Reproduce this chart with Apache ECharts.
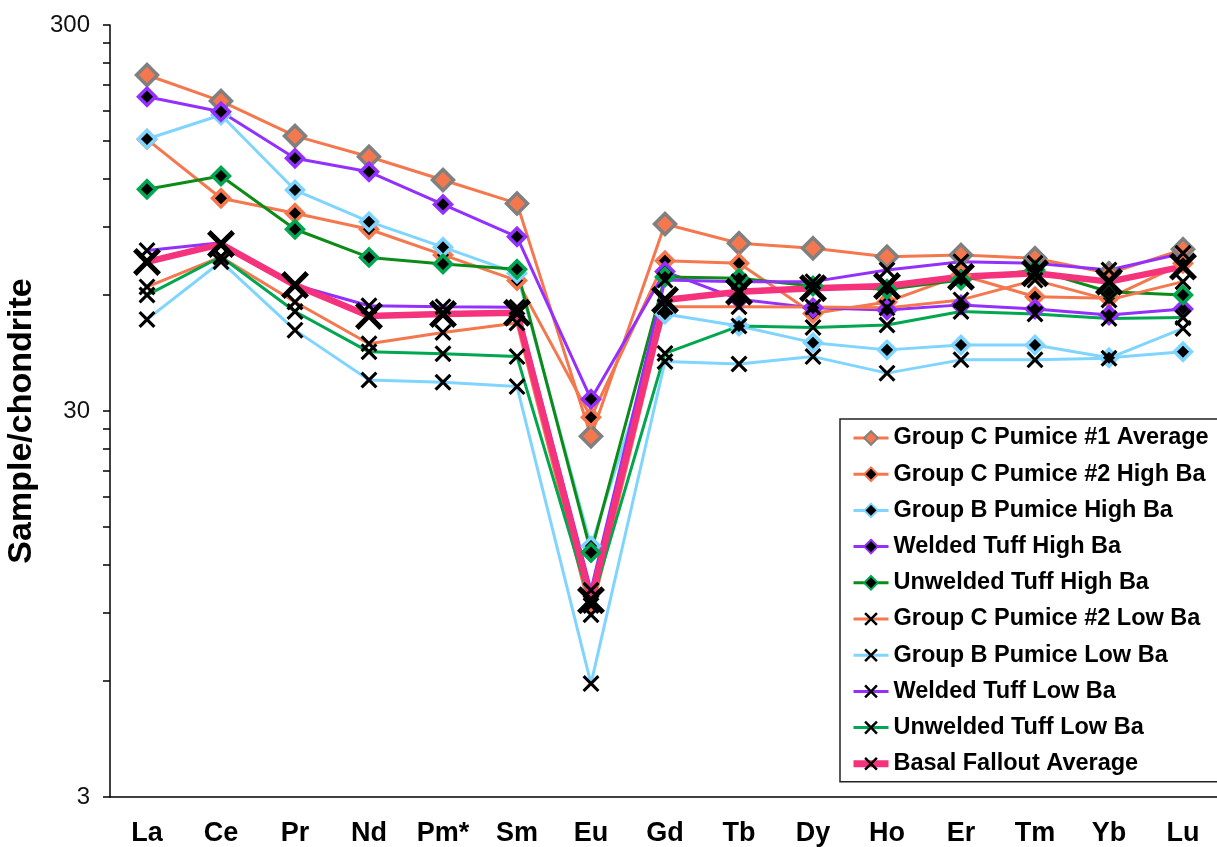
<!DOCTYPE html>
<html>
<head>
<meta charset="utf-8">
<script src="https://cdn.jsdelivr.net/npm/echarts@6/dist/echarts.min.js"></script>
<style>
html,body{margin:0;padding:0;background:#fff;}
#chart{width:1217px;height:847px;}
</style>
</head>
<body>
<div id="chart"></div>
<script>
var categories = ['La','Ce','Pr','Nd','Pm*','Sm','Eu','Gd','Tb','Dy','Ho','Er','Tm','Yb','Lu'];
var yLabelValues = [3, 30, 300];
var yTickValues = [3,6,9,12,15,18,21,24,27,30,60,90,120,150,180,210,240,270,300];

var groupC1Average   = [222.6,190.6,154.8,136.7,119.0,103.5,25.8,91.5,81.6,79.2,75.3,76.1,74.6,68.2,78.7];
var groupC2HighBa    = [151.7,106.7,97.6,88.7,76.1,65.3,28.9,73.5,72.4,53.7,57.5,67.5,59.3,58.8,72.4];
var groupBHighBa     = [152.0,175.4,112.1,92.8,79.7,68.2,13.4,53.5,49.8,45.1,43.2,44.5,44.5,41.2,42.7];
var weldedHighBa     = [195.6,178.9,135.5,125.0,102.9,84.8,32.2,68.9,58.4,55.5,54.8,56.5,55.1,53.2,55.1];
var unweldedHighBa   = [112.6,121.9,88.7,75.0,72.1,69.9,12.9,66.7,66.2,63.2,62.0,65.5,69.6,61.1,59.9];
var groupC2LowBa     = [62.9,75.2,57.5,44.8,47.9,50.7,8.9,55.9,55.9,55.8,55.5,58.2,65.5,58.2,64.9];
var groupBLowBa      = [51.8,73.1,48.6,36.1,35.6,34.7,5.9,40.3,39.7,41.5,37.6,40.7,40.7,41.1,49.1];
var weldedLowBa      = [78.1,81.9,63.6,56.2,55.9,55.7,10.3,65.5,64.9,64.9,69.6,73.1,72.4,69.6,76.9];
var unweldedLowBa    = [59.9,75.3,54.3,42.7,42.2,41.5,9.4,42.3,49.8,49.4,50.1,54.3,53.5,52.1,52.4];
var basalFallout     = [73.0,81.2,63.6,52.9,53.5,53.9,9.7,58.2,61.1,62.4,63.2,66.8,68.2,64.9,71.0];

var ORANGE = '#F5774E', LBLUE = '#7FD5FF', PURPLE = '#9430FF', GREEN_H = '#0C8C16', GREEN_L = '#00A650', PINK = '#F5327C';
var XPATH = 'path://M2.6,0 L10,7.4 L17.4,0 L20,2.6 L12.6,10 L20,17.4 L17.4,20 L10,12.6 L2.6,20 L0,17.4 L7.4,10 L0,2.6 Z';
var FONT = '"Liberation Sans", Arial, sans-serif';

function diamondSeries(name, data, lineColor, borderColor, fill, size) {
  return {
    name: name, type: 'line', data: data,
    symbol: 'diamond', symbolSize: size,
    lineStyle: {color: lineColor, width: 3},
    itemStyle: {color: fill, borderColor: borderColor, borderWidth: 3.5},
    emphasis: {disabled: true}
  };
}
function crossSeries(name, data, lineColor, width, size) {
  return {
    name: name, type: 'line', data: data,
    symbol: XPATH, symbolSize: size,
    lineStyle: {color: lineColor, width: width},
    itemStyle: {color: '#000', borderWidth: 0},
    emphasis: {disabled: true}
  };
}
function legendItem(name, width) {
  return {name: name, lineStyle: {width: width}};
}

var chart = echarts.init(document.getElementById('chart'), null, {renderer: 'canvas'});
chart.setOption({
  animation: false,
  backgroundColor: '#fff',
  textStyle: {fontFamily: FONT},
  grid: {left: 110, top: 25, width: 1110, height: 772, containLabel: false, outerBoundsMode: 'none'},
  legend: {
    orient: 'vertical', left: 840, top: 419,
    padding: [7, 10, 6, 10], itemGap: 12.2,
    itemWidth: 35, itemHeight: 17,
    borderColor: '#222', borderWidth: 1.5, backgroundColor: '#fff',
    textStyle: {fontFamily: FONT, fontSize: 23.5, fontWeight: 'bold', color: '#000', lineHeight: 24},
    data: [
      legendItem('Group C Pumice #1 Average', 3),
      legendItem('Group C Pumice #2 High Ba', 3),
      legendItem('Group B Pumice High Ba', 3),
      legendItem('Welded Tuff High Ba', 3),
      legendItem('Unwelded Tuff High Ba', 3),
      legendItem('Group C Pumice #2 Low Ba', 3),
      legendItem('Group B Pumice Low Ba', 3),
      legendItem('Welded Tuff Low Ba', 3),
      legendItem('Unwelded Tuff Low Ba', 3),
      legendItem('Basal Fallout Average', 7)
    ]
  },
  xAxis: {
    type: 'category', data: categories, boundaryGap: true,
    axisLine: {lineStyle: {color: '#000', width: 1.5}},
    axisTick: {show: false},
    axisLabel: {fontFamily: FONT, fontSize: 27, fontWeight: 'bold', color: '#000', margin: 23, interval: 0},
    splitLine: {show: false}
  },
  yAxis: {
    type: 'log', logBase: 10, min: 3, max: 300,
    name: 'Sample/chondrite', nameLocation: 'middle', nameGap: 68, nameRotate: 90,
    nameTextStyle: {fontFamily: FONT, fontSize: 34, fontWeight: 'bold', color: '#000', padding: [0, 20, 0, 0]},
    axisLine: {show: true, lineStyle: {color: '#000', width: 1.5}},
    axisTick: {show: true, inside: false, length: 7, lineStyle: {color: '#000', width: 1.5}, customValues: yTickValues},
    axisLabel: {fontFamily: FONT, fontSize: 24, color: '#111', margin: 20, customValues: yLabelValues},
    splitLine: {show: false},
    minorTick: {show: false}
  },
  series: [
    diamondSeries('Group C Pumice #1 Average', groupC1Average, ORANGE, '#808080', ORANGE, 21),
    diamondSeries('Group C Pumice #2 High Ba', groupC2HighBa, ORANGE, ORANGE, '#000', 17),
    diamondSeries('Group B Pumice High Ba', groupBHighBa, LBLUE, LBLUE, '#000', 17),
    diamondSeries('Welded Tuff High Ba', weldedHighBa, PURPLE, PURPLE, '#000', 17),
    diamondSeries('Unwelded Tuff High Ba', unweldedHighBa, GREEN_H, GREEN_L, '#000', 17),
    crossSeries('Group C Pumice #2 Low Ba', groupC2LowBa, ORANGE, 3, 17),
    crossSeries('Group B Pumice Low Ba', groupBLowBa, LBLUE, 3, 17),
    crossSeries('Welded Tuff Low Ba', weldedLowBa, PURPLE, 3, 17),
    crossSeries('Unwelded Tuff Low Ba', unweldedLowBa, GREEN_L, 3, 17),
    crossSeries('Basal Fallout Average', basalFallout, PINK, 6.5, 28)
  ]
});
</script>
</body>
</html>
